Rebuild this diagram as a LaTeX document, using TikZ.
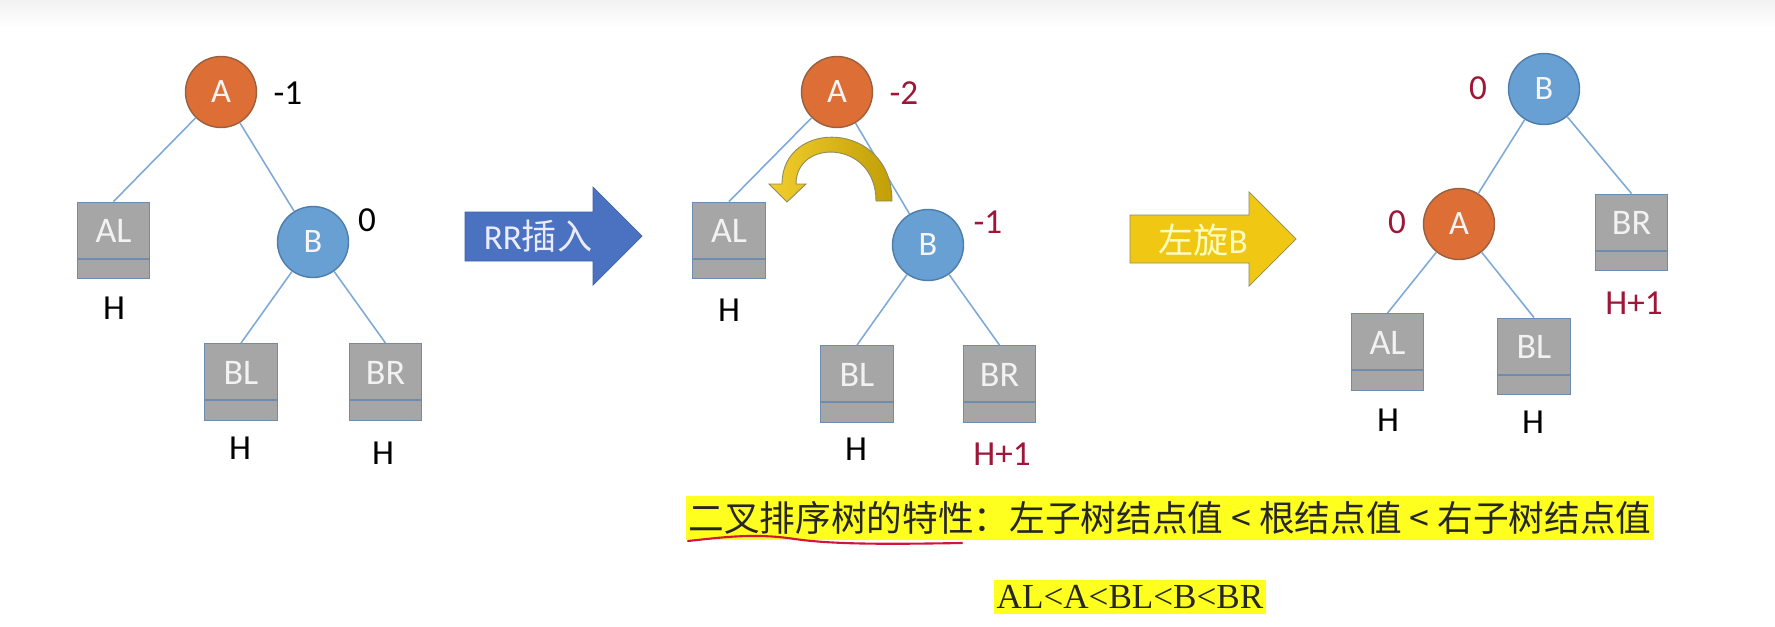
\documentclass[tikz,border=0pt]{standalone}
\usepackage{fontspec}
\setmainfont{Carlito}
\newfontfamily\cjk{Noto Sans CJK SC}
\newfontfamily\timesrm{Liberation Serif}
\definecolor{nodeAfill}{HTML}{DD6E35}
\definecolor{nodeAline}{HTML}{99603F}
\definecolor{nodeBfill}{HTML}{68A0D4}
\definecolor{nodeBline}{HTML}{4D7DAB}
\definecolor{subfill}{HTML}{A6A6A6}
\definecolor{subline}{HTML}{6E8CAE}
\definecolor{edgeblue}{HTML}{7FAAD8}
\definecolor{darkred}{HTML}{9E1638}
\definecolor{rrblue}{HTML}{4A72C0}
\definecolor{rrline}{HTML}{3E61A3}
\definecolor{rotyellow}{HTML}{F0C814}
\definecolor{rotline}{HTML}{8C8A5E}
\definecolor{curvedark}{HTML}{C29E08}
\definecolor{hlyellow}{HTML}{FFFF1F}
\definecolor{penred}{HTML}{D0163A}
\begin{document}
\begin{tikzpicture}[x=0.02cm,y=-0.02cm,
  nodeA/.style={circle,draw=nodeAline,fill=nodeAfill,line width=0.8pt,minimum size=1.42cm,inner sep=0pt,text=white!96!black,font=\fontsize{19.5}{22}\selectfont},
  nodeB/.style={nodeA,draw=nodeBline,fill=nodeBfill},
  sub/.style={rectangle,draw=subline,fill=subfill,line width=0.8pt,minimum width=1.45cm,minimum height=1.53cm,inner sep=0pt,
    text=white!95!black,text height=0.42cm,text depth=0.33cm,font=\fontsize{20.5}{22}\selectfont,
    path picture={\draw[subline,line width=1.2pt] ([yshift=0.4cm]path picture bounding box.south west) -- ([yshift=0.4cm]path picture bounding box.south east);}},
  link/.style={draw=edgeblue,line width=0.9pt},
  bf/.style={font=\fontsize{20}{22}\selectfont},
  bfred/.style={bf,text=darkred},
  arrowtext/.style={font=\fontsize{20}{22}\selectfont},
  hl/.style={fill=hlyellow,inner xsep=1.5pt,inner ysep=3pt,text=black!85}]
\useasboundingbox (0,0) rectangle (1775,626);
\shade[top color=black!5,bottom color=white] (0,0) rectangle (1775,28);

\node[nodeA] (A1) at (221,92) {A};
\node[nodeB] (B1) at (313,242) {B};
\node[sub] (AL1) at (113.5,240.5) {AL};
\node[sub] (BL1) at (241,382) {BL};
\node[sub] (BR1) at (385.5,382) {BR};
\draw[link] (A1) -- (AL1.north);
\draw[link] (A1) -- (B1);
\draw[link] (B1) -- (BL1.north);
\draw[link] (B1) -- (BR1.north);
\node[bf] (bfA1) at (288,93) {-1};
\node[bf] (bfB1) at (367,220) {0};
\node[bf] (hAL1) at (114,308) {H};
\node[bf] (hBL1) at (240,448) {H};
\node[bf] (hBR1) at (383,453) {H};

\fill[rrblue,draw=rrline] (465,212) -- (593,212) -- (593,187) -- (642,236) -- (593,285) -- (593,261) -- (465,261) -- cycle;
\node[arrowtext,text=white!92!blue] (rr) at (538,236) {RR{\cjk 插入}};

\node[nodeA] (A2) at (837,92) {A};
\node[nodeB] (B2) at (928,245) {B};
\node[sub] (AL2) at (729,240.5) {AL};
\node[sub] (BL2) at (857,384) {BL};
\node[sub] (BR2) at (999.5,384) {BR};
\draw[link] (A2) -- (AL2.north);
\draw[link] (A2) -- (B2);
\draw[link] (B2) -- (BL2.north);
\draw[link] (B2) -- (BR2.north);
\node[bfred] (bfA2) at (904,93) {-2};
\node[bfred] (bfB2) at (988,222) {-1};
\node[bf] (hAL2) at (729,310) {H};
\node[bf] (hBL2) at (856,449) {H};
\node[bfred] (hBR2) at (1002,454) {H+1};
\shade[left color=rotyellow!90!white,right color=curvedark,draw=rotline,line width=0.5pt]
  (892,201) .. controls (892,120) and (782,118) .. (782,184) -- (769,184) -- (787,202) -- (806,184) -- (796,184)
  .. controls (796,138) and (876,140) .. (876,201) -- cycle;

\fill[rotyellow,draw=rotline] (1130,215) -- (1249,215) -- (1249,192) -- (1296,239) -- (1249,286) -- (1249,263) -- (1130,263) -- cycle;
\node[arrowtext,text=yellow!25!white] (rot) at (1203,240) {{\cjk 左旋}B};

\node[nodeB] (B3) at (1544,89) {B};
\node[nodeA] (A3) at (1459,224) {A};
\node[sub] (BR3) at (1631.5,232.5) {BR};
\node[sub] (AL3) at (1387.5,352) {AL};
\node[sub] (BL3) at (1534,356.5) {BL};
\draw[link] (B3) -- (A3);
\draw[link] (B3) -- (BR3.north);
\draw[link] (A3) -- (AL3.north);
\draw[link] (A3) -- (BL3.north);
\node[bfred] (bfB3) at (1478,88) {0};
\node[bfred] (bfA3) at (1397,222) {0};
\node[bfred] (hBR3) at (1634,303) {H+1};
\node[bf] (hAL3) at (1388,420) {H};
\node[bf] (hBL3) at (1533,422) {H};

\node[hl,font=\cjk\fontsize{20.3}{22}\selectfont] (rule) at (1170,518) {二叉排序树的特性：左子树结点值 < 根结点值 < 右子树结点值};
\draw[penred,line width=1.2pt,line cap=round] (688,541) .. controls (725,537) and (755,533) .. (795,539) .. controls (835,545) and (900,544) .. (962,543);
\node[hl,font=\timesrm\fontsize{20}{22}\selectfont] (order) at (1130,597) {AL<A<BL<B<BR};
\end{tikzpicture}
\end{document}
